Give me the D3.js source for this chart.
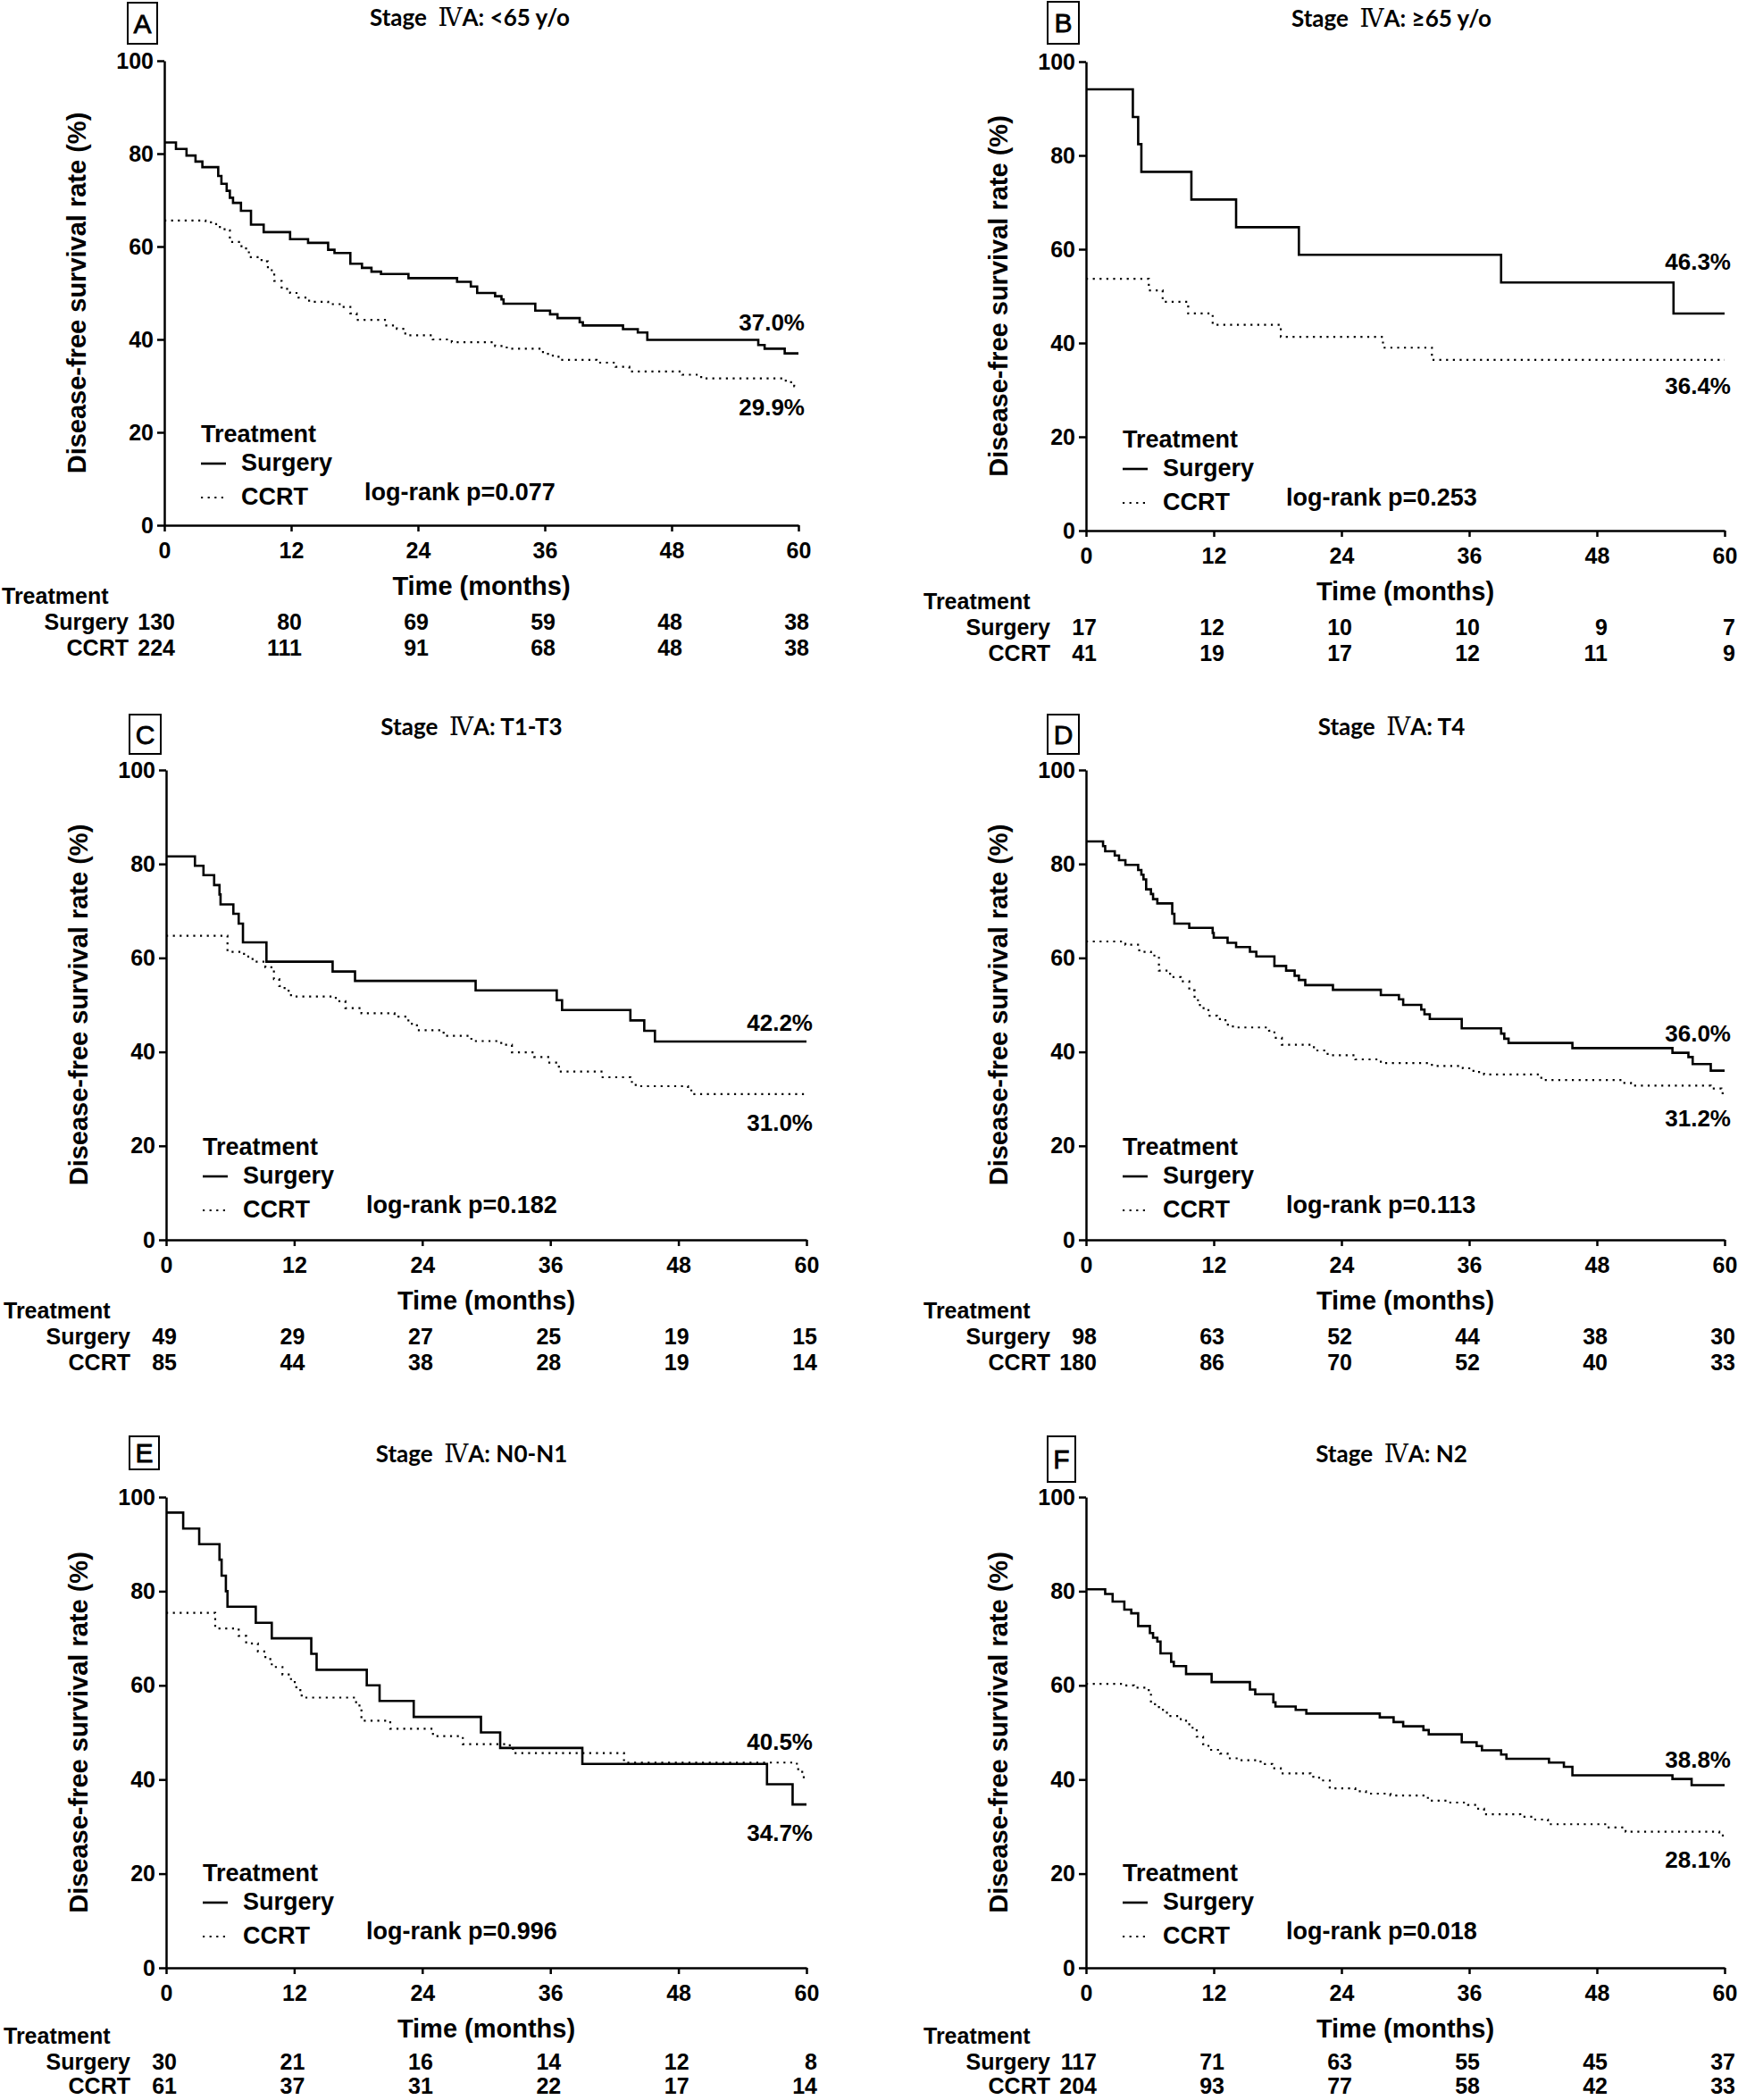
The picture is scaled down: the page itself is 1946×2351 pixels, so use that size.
<!DOCTYPE html>
<html><head><meta charset="utf-8">
<script src="https://cdn.jsdelivr.net/npm/d3@7"></script>
<style>
body{margin:0;background:#fff}
svg text{font-family:"Liberation Sans",Arial,sans-serif;font-weight:bold;fill:#000}
</style></head><body>
<svg id="c" width="1946" height="2351"></svg>
<script>
// ---------- data ----------
const timeTicks=[0,12,24,36,48,60];
const survTicks=[0,20,40,60,80,100];
const panelLetters=["A","B","C","D","E","F"];
const subgroupTitles=["<65 y/o","≥65 y/o","T1-T3","T4","N0-N1","N2"];
const groupNames=["Surgery","CCRT"];
const logRankP=["0.077","0.253","0.182","0.113","0.996","0.018"];
const upperLabels=["37.0%","46.3%","42.2%","36.0%","40.5%","38.8%"];
const lowerLabels=["29.9%","36.4%","31.0%","31.2%","34.7%","28.1%"];

const riskSurgery=[[130,80,69,59,48,38],[17,12,10,10,9,7],[49,29,27,25,19,15],[98,63,52,44,38,30],[30,21,16,14,12,8],[117,71,63,55,45,37]];
const riskCCRT=[[224,111,91,68,48,38],[41,19,17,12,11,9],[85,44,38,28,19,14],[180,86,70,52,40,33],[61,37,31,22,17,14],[204,93,77,58,42,33]];

const surgeryA=[[0,82.4],[1.1,81.0],[2.1,79.6],[2.95,78.3],[3.6,77.1],[5.1,75.2],[5.4,73.5],[5.9,72.0],[6.2,70.5],[6.5,69.4],[7.25,67.7],[8.2,64.7],[9.4,63.1],[11.9,61.6],[13.6,60.8],[15.5,59.3],[16.1,58.6],[17.6,56.3],[18.7,55.4],[19.6,54.6],[20.5,54.1],[23.1,53.2],[27.7,52.4],[29.0,51.4],[29.6,50.0],[31.3,49.3],[31.9,48.6],[32.1,47.7],[35.1,46.2],[36.5,45.4],[37.2,44.6],[39.3,43.7],[39.6,43.0],[43.4,42.2],[44.8,41.5],[45.7,39.9],[56.2,38.8],[56.8,38.0],[58.7,37.0]];
const ccrtA=[[0,65.6],[3.9,65.2],[4.9,64.2],[5.7,63.5],[6.2,61.0],[7.3,59.6],[8.0,57.7],[9.2,56.8],[9.8,54.9],[10.4,52.6],[11.1,50.9],[11.9,50.0],[12.7,49.0],[13.7,48.1],[15.5,47.6],[16.8,47.0],[17.6,45.6],[18.2,44.2],[21.0,43.0],[22.0,42.3],[22.8,40.9],[25.4,40.0],[27.2,39.4],[31.3,38.6],[32.4,38.0],[35.5,37.3],[36.3,36.5],[37.3,35.6],[40.9,35.0],[42.7,34.1],[44.0,33.1],[49.0,32.4],[50.8,31.6],[58.8,30.8],[59.6,29.9]];
const surgeryB=[[0,94.1],[4.4,88.2],[4.9,82.4],[5.2,76.5],[9.9,70.6],[14.1,64.7],[20.0,58.8],[39.0,52.9],[55.2,46.3]];
const ccrtB=[[0,53.7],[5.9,51.2],[7.2,48.8],[9.6,46.3],[11.9,43.9],[18.3,41.3],[27.9,39.0],[32.5,36.4]];
const surgeryC=[[0,81.6],[2.7,79.6],[3.5,77.6],[4.5,75.5],[5.0,73.5],[5.1,71.4],[6.3,69.4],[6.8,67.3],[7.2,63.3],[9.4,59.2],[15.6,57.1],[17.7,55.1],[29.0,53.1],[36.6,51.0],[37.1,48.9],[43.5,46.7],[44.8,44.5],[45.8,42.2]];
const ccrtC=[[0,64.7],[5.75,61.3],[7.3,60.3],[8.1,59.2],[9.3,58.0],[10.1,55.5],[10.6,54.0],[11.1,53.0],[11.7,51.8],[15.9,50.8],[16.8,49.3],[18.3,48.2],[21.4,47.5],[22.7,46.0],[23.5,44.6],[26.0,43.4],[28.6,42.3],[31.4,41.5],[32.4,39.9],[34.5,38.9],[35.8,37.7],[36.8,35.8],[40.9,34.6],[43.5,33.6],[44.0,32.7],[48.9,31.8],[49.4,31.0]];
const surgeryD=[[0,84.8],[1.6,83.8],[1.8,82.7],[2.7,81.8],[3.1,80.8],[3.7,79.8],[4.9,78.7],[5.2,77.7],[5.4,76.7],[5.65,74.6],[6.1,73.6],[6.3,72.5],[6.7,71.6],[8.1,69.4],[8.3,67.3],[9.7,66.4],[11.9,65.3],[12.0,64.3],[13.3,63.2],[14.1,62.3],[15.4,61.3],[16.0,60.3],[17.7,58.3],[18.8,57.3],[19.6,56.2],[20.0,55.3],[20.6,54.2],[23.2,53.2],[27.7,52.1],[29.4,51.2],[29.8,50.0],[31.5,49.0],[31.8,48.0],[32.3,47.0],[35.3,45.0],[39.0,43.9],[39.3,42.8],[39.7,41.9],[45.7,40.8],[55.1,39.8],[56.6,38.9],[57.0,37.4],[58.7,36.0]];
const ccrtD=[[0,63.5],[3.7,62.8],[5.0,61.3],[6.1,60.5],[6.85,57.3],[7.9,55.9],[8.9,55.0],[9.7,53.1],[10.2,51.0],[10.7,49.3],[11.5,47.7],[12.3,47.0],[13.1,45.8],[13.8,45.2],[17.2,44.5],[17.7,43.0],[18.4,41.5],[21.1,41.0],[21.6,40.3],[22.7,39.3],[25.3,38.4],[27.7,37.6],[32.5,37.0],[35.4,36.5],[36.4,35.7],[37.4,35.2],[42.6,34.5],[43.2,34.0],[50.4,33.4],[51.2,32.8],[58.7,32.2],[59.7,31.2]];
const surgeryE=[[0,96.7],[1.6,93.3],[3.1,90.0],[5.0,86.7],[5.2,83.3],[5.6,80.0],[5.75,76.7],[8.4,73.3],[9.9,70.0],[13.6,66.7],[14.1,63.3],[18.8,60.0],[20.0,56.7],[23.2,53.3],[29.5,50.0],[31.3,46.7],[39.0,43.3],[56.3,39.0],[58.7,34.7]];
const ccrtE=[[0,75.4],[4.6,72.1],[6.8,70.5],[7.5,68.9],[8.6,67.2],[9.3,65.6],[9.9,63.9],[10.9,62.3],[11.7,60.7],[12.2,59.0],[12.7,57.4],[17.8,55.7],[18.3,52.5],[21.0,50.8],[25.0,49.2],[27.8,47.5],[32.2,46.5],[32.6,45.6],[42.9,43.6],[59.1,42.2],[59.6,40.5]];
const surgeryF=[[0,80.4],[1.8,79.4],[2.5,77.8],[3.6,76.1],[4.25,75.3],[4.9,72.6],[6.0,71.1],[6.3,70.1],[6.7,69.3],[7.0,66.8],[8.0,65.0],[8.25,64.1],[9.4,62.4],[11.8,60.7],[15.4,59.1],[15.9,58.1],[17.6,56.4],[17.8,55.5],[19.7,54.8],[20.7,54.0],[27.6,53.2],[28.9,52.2],[29.8,51.3],[31.7,50.5],[32.2,49.6],[35.3,47.9],[36.7,47.1],[37.2,46.2],[39.0,45.3],[39.5,44.4],[43.5,43.6],[44.9,42.7],[45.7,40.9],[55.1,40.1],[56.9,38.8]];
const ccrtF=[[0,60.3],[3.5,60.0],[4.5,59.5],[5.8,59.0],[6.1,56.0],[6.85,54.8],[7.6,53.5],[8.9,52.5],[9.7,51.0],[10.4,49.1],[11.0,47.5],[11.5,46.3],[12.6,45.5],[13.3,44.5],[14.4,44.1],[16.4,43.3],[17.5,42.4],[18.3,41.3],[21.1,40.6],[21.9,39.8],[22.9,38.1],[25.3,37.5],[26.3,37.0],[28.6,36.6],[31.7,36.1],[32.3,35.5],[34.1,35.1],[35.9,34.6],[36.7,33.8],[37.4,32.6],[40.8,32.1],[42.1,31.5],[43.4,30.5],[48.9,29.8],[50.7,28.9],[59.5,28.1]];

const surgeryCurves=[surgeryA,surgeryB,surgeryC,surgeryD,surgeryE,surgeryF];
const ccrtCurves=[ccrtA,ccrtB,ccrtC,ccrtD,ccrtE,ccrtF];
// label baselines, in survival units
const upperLabelAt=[41.9,55.6,44.5,42.2,46.3,42.5];
const lowerLabelAt=[23.7,29.1,23.2,24.1,26.9,21.3];

// ---------- layout ----------
const layoutX0=[184,1216,186,1216,186,1216];
const layoutX1=[894,1931,903,1931,903,1931];
const layoutYTop=[68,69,862,862,1676,1676];
const layoutYBot=[588,594,1388,1388,2203,2203];
const boxes=[[143,3,33,46],[1173,2,35,47],[145,800,35,44],[1173,800,35,44],[145,1608,33,37],[1173,1608,31,51]];
const legendOffset=[93,93,95,95,97,97];
const riskRowStart=[117,117,117,117,114,114];
const riskRowGap=[29,29,29,29,27,27];

const svg=d3.select("#c");

for(let i=0;i<6;i++){
  const x0=layoutX0[i],x1=layoutX1[i],yT=layoutYTop[i],yB=layoutYBot[i];
  const x=d3.scaleLinear().domain([0,60]).range([x0,x1]);
  const y=d3.scaleLinear().domain([0,100]).range([yB,yT]);
  const g=svg.append("g");

  // panel letter box
  const b=boxes[i];
  g.append("rect").attr("x",b[0]).attr("y",b[1]).attr("width",b[2]).attr("height",b[3])
    .attr("fill","none").attr("stroke","#000").attr("stroke-width",2);
  g.append("text").attr("x",b[0]+b[2]/2).attr("y",b[1]+b[3]/2+10.5)
    .attr("text-anchor","middle").style("font-size","30px").style("font-weight","normal")
    .attr("stroke","#000").attr("stroke-width",0.8).text(panelLetters[i]);

  // title
  const t=g.append("text").attr("x",x0+342).attr("y",yT-39).attr("text-anchor","middle")
    .style("font-family","Lato, 'Open Sans', sans-serif").style("font-size","26px");
  t.append("tspan").text("Stage\u00a0\u00a0");
  t.append("tspan").style("font-family","'DejaVu Serif','Noto Sans CJK SC',serif").style("font-weight","normal").style("font-size","27px").text("\u2163");
  t.append("tspan").text("A: "+subgroupTitles[i]);

  // axes
  const ax=g.append("g").attr("transform",`translate(0,${yB})`)
    .call(d3.axisBottom(x).tickValues(timeTicks).tickSize(7).tickSizeOuter(0).tickPadding(12));
  const ay=g.append("g").attr("transform",`translate(${x0},0)`)
    .call(d3.axisLeft(y).tickValues(survTicks).tickSize(8).tickSizeOuter(0).tickPadding(4));
  [ax,ay].forEach(a=>{
    a.selectAll("path,line").attr("stroke","#000").attr("stroke-width",2.5);
    a.selectAll("text").style("font-size","25px").style("font-family","'Liberation Sans',Arial,sans-serif").style("font-weight","bold").attr("fill","#000");
  });

  // axis titles
  g.append("text").attr("transform",`translate(${x0-88},${(yT+yB)/2}) rotate(-90)`)
    .attr("text-anchor","middle").style("font-size","29px").text("Disease-free survival rate (%)");
  g.append("text").attr("x",(x0+x1)/2).attr("y",yB+78).attr("text-anchor","middle")
    .style("font-size","29px").text("Time (months)");

  // curves
  const line=d3.line().x(d=>x(d[0])).y(d=>y(d[1])).curve(d3.curveStepAfter);
  const ext=c=>c.concat([[60,c[c.length-1][1]]]);
  g.append("path").attr("d",line(ext(ccrtCurves[i]))).attr("fill","none").attr("stroke","#000")
    .attr("stroke-width",2.2).attr("stroke-dasharray","2.2 5.4");
  g.append("path").attr("d",line(ext(surgeryCurves[i]))).attr("fill","none").attr("stroke","#000")
    .attr("stroke-width",2.6);

  // end labels
  g.append("text").attr("x",x1+7).attr("y",y(upperLabelAt[i])).attr("text-anchor","end")
    .style("font-size","26px").text(upperLabels[i]);
  g.append("text").attr("x",x1+7).attr("y",y(lowerLabelAt[i])).attr("text-anchor","end")
    .style("font-size","26px").text(lowerLabels[i]);

  // legend
  const ly=yB-legendOffset[i];
  g.append("text").attr("x",x0+41).attr("y",ly).style("font-size","27px").text("Treatment");
  g.append("line").attr("x1",x0+41).attr("x2",x0+69).attr("y1",ly+24).attr("y2",ly+24)
    .attr("stroke","#000").attr("stroke-width",2.6);
  g.append("text").attr("x",x0+86).attr("y",ly+32).style("font-size","27px").text(groupNames[0]);
  g.append("line").attr("x1",x0+41).attr("x2",x0+67).attr("y1",ly+62).attr("y2",ly+62)
    .attr("stroke","#000").attr("stroke-width",2.2).attr("stroke-dasharray","2.2 5.4");
  g.append("text").attr("x",x0+86).attr("y",ly+70).style("font-size","27px").text(groupNames[1]);
  g.append("text").attr("x",x0+224).attr("y",ly+65).style("font-size","27px").text("log-rank p="+logRankP[i]);

  // number at risk table
  g.append("text").attr("x",x0-182).attr("y",yB+riskRowStart[i]-29).style("font-size","25px").text("Treatment");
  const rows=[riskSurgery[i],riskCCRT[i]];
  rows.forEach((r,k)=>{
    const ry=yB+riskRowStart[i]+k*riskRowGap[i];
    g.append("text").attr("x",x0-40).attr("y",ry).attr("text-anchor","end").style("font-size","25px").text(groupNames[k]);
    g.selectAll(null).data(r).enter().append("text")
      .attr("x",(d,j)=>x(timeTicks[j])+12).attr("y",ry).attr("text-anchor","end")
      .style("font-size","25px").text(d=>d);
  });
}
</script>
</body></html>
